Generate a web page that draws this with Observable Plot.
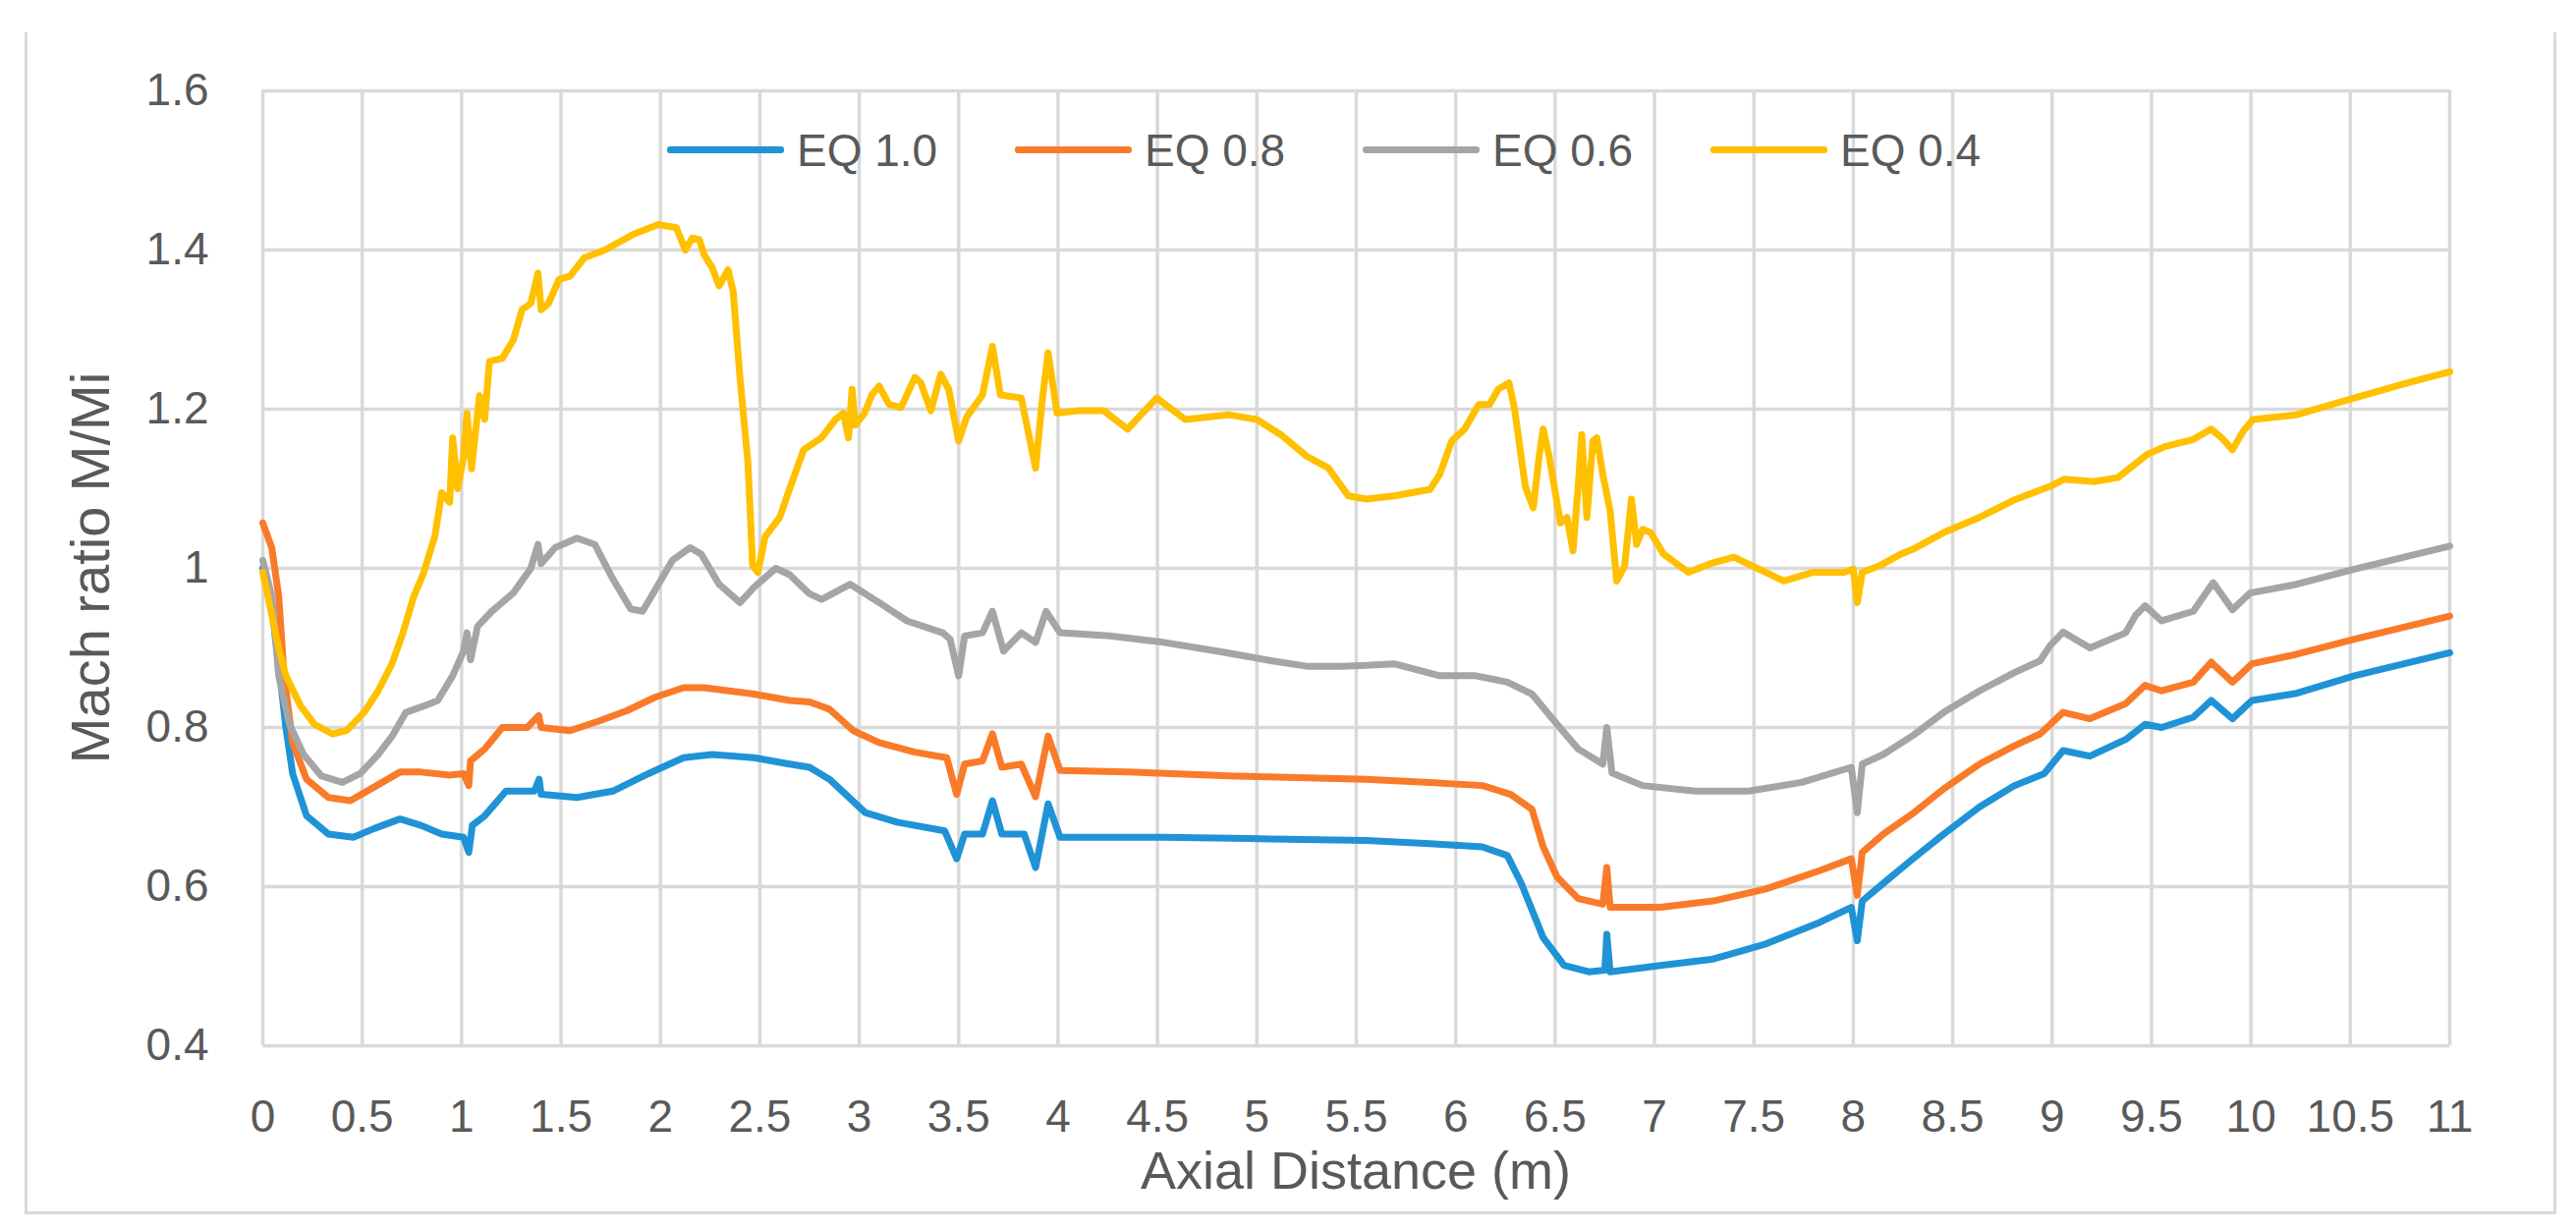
<!DOCTYPE html>
<html>
<head>
<meta charset="utf-8">
<script src="https://cdn.jsdelivr.net/npm/d3@7"></script>
<script src="https://cdn.jsdelivr.net/npm/@observablehq/plot@0.6"></script>
<style>
  html, body { margin: 0; padding: 0; background: #fff; }
  #wrap { position: relative; width: 2622px; height: 1252px; font-family: "Liberation Sans", Arial, sans-serif; color: #595959; }
  #frame { position: absolute; left: 25px; top: 33px; width: 2571px; height: 1200px; border-left: 3px solid #d9d9d9; border-right: 3px solid #d9d9d9; border-bottom: 3px solid #d9d9d9; }
  #chart { position: absolute; left: 0; top: 0; }
  .ytitle { position: absolute; left: 92px; top: 578px; transform: translate(-50%, -50%) rotate(-90deg); font-size: 56px; line-height: 1; white-space: nowrap; }
  .xtitle { position: absolute; left: 1380px; top: 1164px; transform: translateX(-50%); font-size: 54px; line-height: 1; white-space: nowrap; }
  .lg-line { position: absolute; height: 7px; width: 119px; border-radius: 3px; }
  .lg-text { position: absolute; font-size: 46px; line-height: 1; white-space: nowrap; }
</style>
</head>
<body>
<div id="wrap">
  <div id="frame"></div>
  <div id="chart"></div>
</div>
<script>
// ---- data ----
const seriesNames = ["EQ 1.0", "EQ 0.8", "EQ 0.6", "EQ 0.4"];
const seriesColors = ["#1F93D6", "#F97B29", "#A5A5A5", "#FFC000"];

const xTicks = [0, 0.5, 1, 1.5, 2, 2.5, 3, 3.5, 4, 4.5, 5, 5.5, 6, 6.5, 7, 7.5, 8, 8.5, 9, 9.5, 10, 10.5, 11];
const yTicks = [0.4, 0.6, 0.8, 1.0, 1.2, 1.4, 1.6];

const eq10X = [0, 0.04, 0.08, 0.116, 0.15, 0.22, 0.33, 0.455, 0.56, 0.69, 0.795, 0.9, 1.01, 1.036, 1.054, 1.116, 1.223, 1.366, 1.39, 1.4, 1.58, 1.76, 1.94, 2.116, 2.26, 2.47, 2.65, 2.75, 2.85, 3.03, 3.19, 3.43, 3.49, 3.53, 3.62, 3.67, 3.717, 3.83, 3.887, 3.95, 4.01, 4.53, 5.07, 5.55, 5.87, 6.134, 6.26, 6.33, 6.44, 6.545, 6.67, 6.75, 6.76, 6.777, 7.03, 7.295, 7.56, 7.83, 7.99, 8.02, 8.045, 8.15, 8.3, 8.455, 8.634, 8.81, 8.96, 9.055, 9.19, 9.37, 9.468, 9.55, 9.71, 9.8, 9.907, 10.005, 10.23, 10.52, 11];
const eq10Y = [1.0, 0.96, 0.88, 0.80, 0.742, 0.689, 0.666, 0.662, 0.673, 0.685, 0.677, 0.666, 0.662, 0.643, 0.677, 0.689, 0.72, 0.72, 0.735, 0.716, 0.712, 0.72, 0.742, 0.762, 0.766, 0.762, 0.754, 0.75, 0.735, 0.693, 0.681, 0.67, 0.635, 0.666, 0.666, 0.708, 0.666, 0.666, 0.624, 0.704, 0.662, 0.662, 0.66, 0.658, 0.654, 0.65, 0.639, 0.604, 0.536, 0.501, 0.493, 0.495, 0.54, 0.493, 0.501, 0.509, 0.528, 0.555, 0.574, 0.532, 0.582, 0.604, 0.635, 0.666, 0.70, 0.727, 0.742, 0.771, 0.764, 0.785, 0.804, 0.80, 0.813, 0.834, 0.811, 0.834, 0.843, 0.865, 0.894];

const eq08X = [0, 0.045, 0.08, 0.107, 0.15, 0.22, 0.33, 0.44, 0.545, 0.69, 0.795, 0.94, 1.01, 1.036, 1.045, 1.116, 1.205, 1.33, 1.388, 1.4, 1.545, 1.69, 1.83, 1.973, 2.116, 2.22, 2.47, 2.65, 2.75, 2.85, 2.97, 3.1, 3.28, 3.44, 3.49, 3.53, 3.62, 3.67, 3.717, 3.815, 3.887, 3.95, 4.01, 4.35, 4.89, 5.55, 5.87, 6.134, 6.277, 6.384, 6.44, 6.51, 6.616, 6.74, 6.76, 6.777, 7.03, 7.295, 7.56, 7.83, 7.99, 8.02, 8.045, 8.15, 8.3, 8.455, 8.634, 8.81, 8.94, 9.055, 9.19, 9.37, 9.468, 9.55, 9.71, 9.8, 9.907, 10.005, 10.23, 10.52, 11];
const eq08Y = [1.057, 1.026, 0.965, 0.865, 0.781, 0.735, 0.712, 0.708, 0.723, 0.744, 0.744, 0.74, 0.742, 0.727, 0.758, 0.773, 0.80, 0.80, 0.815, 0.80, 0.796, 0.808, 0.821, 0.838, 0.85, 0.85, 0.842, 0.834, 0.832, 0.823, 0.796, 0.781, 0.769, 0.762, 0.716, 0.754, 0.758, 0.792, 0.75, 0.754, 0.713, 0.789, 0.746, 0.744, 0.739, 0.735, 0.731, 0.727, 0.716, 0.697, 0.65, 0.612, 0.585, 0.578, 0.624, 0.574, 0.574, 0.582, 0.597, 0.62, 0.635, 0.589, 0.643, 0.666, 0.692, 0.723, 0.754, 0.777, 0.792, 0.819, 0.811, 0.83, 0.853, 0.846, 0.857, 0.882, 0.857, 0.88, 0.892, 0.911, 0.94];

const eq06X = [0, 0.045, 0.08, 0.134, 0.205, 0.295, 0.4, 0.49, 0.58, 0.65, 0.72, 0.81, 0.88, 0.955, 1.01, 1.027, 1.045, 1.08, 1.152, 1.26, 1.348, 1.384, 1.4, 1.47, 1.58, 1.67, 1.76, 1.85, 1.91, 1.99, 2.06, 2.15, 2.205, 2.295, 2.4, 2.47, 2.58, 2.65, 2.75, 2.81, 2.955, 3.1, 3.24, 3.42, 3.457, 3.5, 3.53, 3.62, 3.67, 3.726, 3.815, 3.887, 3.94, 4.01, 4.26, 4.53, 4.8, 5.07, 5.25, 5.43, 5.55, 5.69, 5.92, 6.1, 6.26, 6.384, 6.51, 6.616, 6.74, 6.76, 6.786, 6.94, 7.205, 7.473, 7.74, 7.99, 8.02, 8.045, 8.15, 8.3, 8.455, 8.634, 8.81, 8.94, 8.99, 9.055, 9.19, 9.37, 9.42, 9.468, 9.55, 9.71, 9.81, 9.907, 9.996, 10.23, 10.52, 11];
const eq06Y = [1.01, 0.965, 0.865, 0.804, 0.766, 0.739, 0.731, 0.742, 0.766, 0.789, 0.819, 0.827, 0.834, 0.865, 0.896, 0.919, 0.885, 0.927, 0.946, 0.969, 1.0, 1.03, 1.006, 1.026, 1.038, 1.03, 0.987, 0.949, 0.946, 0.98, 1.01, 1.026, 1.018, 0.98, 0.957, 0.976, 1.0, 0.992, 0.968, 0.961, 0.98, 0.957, 0.934, 0.919, 0.911, 0.865, 0.915, 0.919, 0.946, 0.896, 0.919, 0.907, 0.946, 0.919, 0.915, 0.907, 0.896, 0.884, 0.877, 0.877, 0.878, 0.88, 0.865, 0.865, 0.857, 0.842, 0.804, 0.773, 0.754, 0.80, 0.743, 0.727, 0.72, 0.72, 0.731, 0.75, 0.693, 0.754, 0.766, 0.79, 0.819, 0.846, 0.869, 0.884, 0.903, 0.92, 0.90, 0.919, 0.941, 0.953, 0.934, 0.946, 0.982, 0.948, 0.969, 0.98, 0.999, 1.028];

const eq04X = [0, 0.08, 0.116, 0.19, 0.26, 0.35, 0.42, 0.51, 0.58, 0.65, 0.705, 0.76, 0.81, 0.866, 0.9, 0.94, 0.955, 0.98, 1.01, 1.027, 1.05, 1.09, 1.116, 1.14, 1.205, 1.26, 1.304, 1.348, 1.384, 1.4, 1.437, 1.49, 1.545, 1.616, 1.72, 1.866, 1.99, 2.08, 2.125, 2.16, 2.196, 2.22, 2.26, 2.295, 2.34, 2.366, 2.4, 2.44, 2.464, 2.49, 2.527, 2.6, 2.65, 2.72, 2.81, 2.88, 2.92, 2.946, 2.964, 2.98, 3.027, 3.063, 3.1, 3.15, 3.21, 3.28, 3.31, 3.36, 3.41, 3.45, 3.5, 3.54, 3.62, 3.67, 3.71, 3.815, 3.887, 3.92, 3.95, 3.995, 4.1, 4.23, 4.35, 4.496, 4.64, 4.855, 5.0, 5.12, 5.25, 5.36, 5.46, 5.55, 5.69, 5.87, 5.92, 5.98, 6.045, 6.116, 6.17, 6.214, 6.268, 6.295, 6.35, 6.39, 6.42, 6.44, 6.47, 6.527, 6.56, 6.59, 6.616, 6.634, 6.66, 6.69, 6.71, 6.74, 6.777, 6.81, 6.85, 6.884, 6.91, 6.94, 6.98, 7.045, 7.17, 7.295, 7.4, 7.527, 7.65, 7.795, 7.955, 8.0, 8.02, 8.045, 8.13, 8.24, 8.3, 8.455, 8.634, 8.81, 8.99, 9.06, 9.21, 9.33, 9.477, 9.566, 9.71, 9.8, 9.853, 9.907, 9.96, 10.01, 10.23, 10.52, 10.785, 11];
const eq04Y = [0.995, 0.90, 0.865, 0.827, 0.804, 0.792, 0.796, 0.819, 0.846, 0.88, 0.919, 0.965, 0.995, 1.041, 1.095, 1.083, 1.164, 1.10, 1.14, 1.195, 1.125, 1.217, 1.187, 1.26, 1.264, 1.287, 1.325, 1.333, 1.371, 1.325, 1.333, 1.363, 1.367, 1.39, 1.40, 1.42, 1.432, 1.428, 1.40, 1.415, 1.413, 1.394, 1.378, 1.355, 1.375, 1.348, 1.24, 1.133, 1.003, 0.995, 1.04, 1.064, 1.10, 1.149, 1.164, 1.187, 1.195, 1.164, 1.225, 1.18, 1.195, 1.218, 1.229, 1.206, 1.202, 1.24, 1.233, 1.198, 1.244, 1.225, 1.16, 1.19, 1.218, 1.279, 1.218, 1.214, 1.126, 1.21, 1.271, 1.195, 1.198, 1.198, 1.175, 1.214, 1.187, 1.193, 1.187, 1.168, 1.141, 1.126, 1.091, 1.087, 1.091, 1.099, 1.118, 1.16, 1.175, 1.206, 1.206, 1.225, 1.233, 1.202, 1.103, 1.076, 1.141, 1.175, 1.141, 1.057, 1.064, 1.022, 1.103, 1.168, 1.064, 1.16, 1.164, 1.118, 1.072, 0.984, 1.003, 1.087, 1.03, 1.049, 1.045, 1.018, 0.995, 1.007, 1.014, 0.999, 0.984, 0.995, 0.995, 0.999, 0.957, 0.995, 1.003, 1.018, 1.024, 1.045, 1.064, 1.086, 1.103, 1.112, 1.109, 1.114, 1.143, 1.153, 1.162, 1.175, 1.164, 1.149, 1.172, 1.187, 1.193, 1.214, 1.233, 1.247];

const xTitle = "Axial Distance (m)";
const yTitle = "Mach ratio M/Mi";

// ---- table built from the arrays ----
const seriesX = [eq10X, eq08X, eq06X, eq04X];
const seriesY = [eq10Y, eq08Y, eq06Y, eq04Y];
const rows = [];
seriesNames.forEach((name, i) => {
  seriesX[i].forEach((x, j) => rows.push({ series: name, x, y: seriesY[i][j] }));
});

const FONT = '"Liberation Sans", Arial, sans-serif';
const GRID = "#d9d9d9";

const chart = Plot.plot({
  width: 2622,
  height: 1252,
  marginLeft: 267,
  marginRight: 129,
  marginTop: 92,
  marginBottom: 188,
  style: { fontFamily: FONT, fontSize: "46px", color: "#595959", background: "transparent" },
  x: { domain: [0, 11] },
  y: { domain: [0.4, 1.6] },
  color: { domain: seriesNames, range: seriesColors },
  marks: [
    Plot.gridX(xTicks, { stroke: GRID, strokeOpacity: 1, strokeWidth: 3.5 }),
    Plot.gridY(yTicks, { stroke: GRID, strokeOpacity: 1, strokeWidth: 3.5 }),
    Plot.axisX(xTicks, { tickSize: 0, tickPadding: 55, fontSize: 46, label: null, fill: "#595959", tickFormat: d => String(d) }),
    Plot.axisY(yTicks, { tickSize: 0, tickPadding: 55, fontSize: 46, label: null, fill: "#595959", tickFormat: d => String(+d.toFixed(1)) }),
    Plot.line(rows, { x: "x", y: "y", z: "series", stroke: "series", strokeWidth: 7, strokeLinejoin: "round", strokeLinecap: "round" })
  ]
});
document.getElementById("chart").appendChild(chart);

// ---- titles and legend (HTML overlay) ----
const wrap = document.getElementById("wrap");
const yt = document.createElement("div"); yt.className = "ytitle"; yt.textContent = yTitle; wrap.appendChild(yt);
const xt = document.createElement("div"); xt.className = "xtitle"; xt.textContent = xTitle; wrap.appendChild(xt);

seriesNames.forEach((name, i) => {
  const ln = document.createElement("div");
  ln.className = "lg-line";
  ln.style.left = (679 + 354 * i) + "px";
  ln.style.top = "149px";
  ln.style.background = seriesColors[i];
  wrap.appendChild(ln);
  const tx = document.createElement("div");
  tx.className = "lg-text";
  tx.style.left = (811 + 354 * i) + "px";
  tx.style.top = "130px";
  tx.textContent = name;
  wrap.appendChild(tx);
});
</script>
</body>
</html>
